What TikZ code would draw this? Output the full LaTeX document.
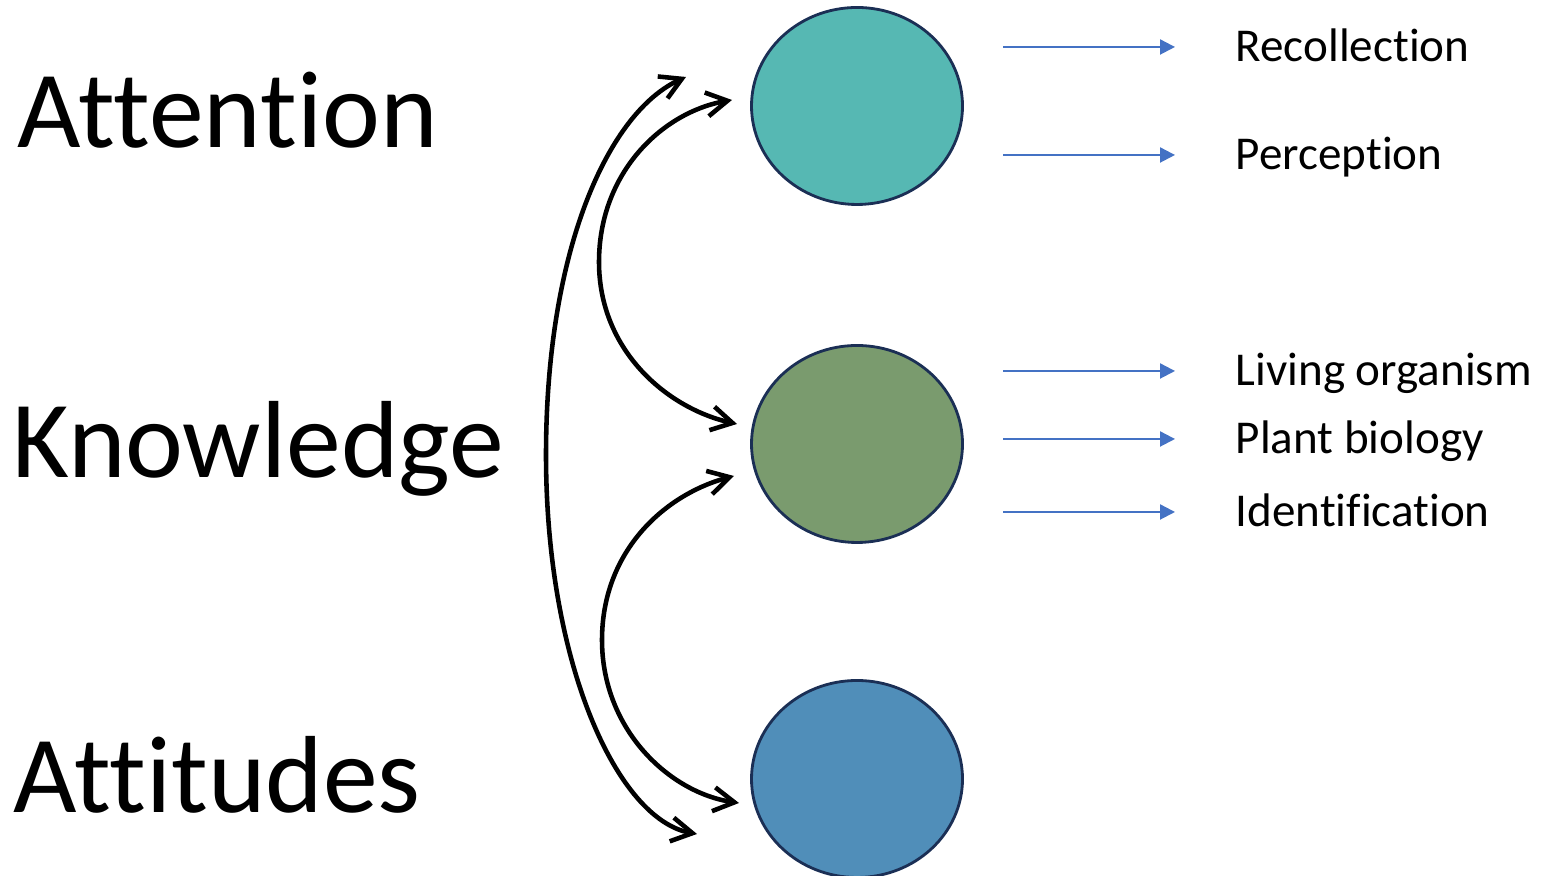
\documentclass[tikz,border=0pt]{standalone}
\usepackage{fontspec}
\setmainfont{Carlito}[Ligatures=NoCommon]
\usepackage{tikz}
\usetikzlibrary{shapes.geometric,arrows.meta}

\definecolor{tealfill}{HTML}{56B8B3}
\definecolor{greenfill}{HTML}{7A9B6E}
\definecolor{bluefill}{HTML}{508EB9}
\definecolor{rimblue}{HTML}{1B2F55}
\definecolor{feedblue}{HTML}{4472C4}

\begin{document}
\begin{tikzpicture}[
  bigword/.style={anchor=base west, inner sep=0pt, font=\fontsize{31.2}{36}\selectfont},
  smallword/.style={anchor=west, inner sep=0pt, text height=3mm, text depth=0pt, font=\fontsize{13.4}{16}\selectfont},
  blob/.style={ellipse, draw=rimblue, line width=0.8pt, minimum width=2.11cm, minimum height=1.97cm},
  link/.style={line width=1.3pt, {Straight Barb[length=2.1mm,width=2.4mm]}-{Straight Barb[length=2.1mm,width=2.4mm]}},
  feed/.style={draw=feedblue, line width=0.6pt, -{Triangle[length=1.5mm,width=1.5mm]}}
]

\useasboundingbox (0,0) rectangle (15.42,8.76);

\draw (0.17,7.28) node[bigword] (attention) {Attention};
\draw (0.12,3.98) node[bigword] (knowledge) {Knowledge};
\draw (0.13,0.63) node[bigword] (attitudes) {Attitudes};

\draw (8.57,7.70) node[blob, fill=tealfill] (att) {};
\draw (8.57,4.32) node[blob, fill=greenfill] (know) {};
\draw (8.57,0.97) node[blob, fill=bluefill] (atti) {};

\draw (12.35,8.29) node[smallword] (rec) {Recollection};
\draw (12.35,7.21) node[smallword] (perc) {Perception};
\draw (12.35,5.05) node[smallword] (liv) {Living organism};
\draw (12.35,4.37) node[smallword] (plant) {Plant biology};
\draw (12.35,3.64) node[smallword] (ident) {Identification};

\foreach \w in {rec,perc,liv,plant,ident}
  \draw[feed] ([xshift=-2.32cm]\w.west) -- ([xshift=-0.6cm]\w.west);

\coordinate (outtop) at (6.86,7.99);
\coordinate (outleft) at (5.46,4.21);
\coordinate (outbot) at (6.97,0.42);
\coordinate (uptop) at (7.32,7.76);
\coordinate (upleft) at (5.99,6.14);
\coordinate (upbot) at (7.37,4.52);
\coordinate (lowtop) at (7.34,4.00);
\coordinate (lowleft) at (6.02,2.36);
\coordinate (lowbot) at (7.39,0.73);

\draw[link] (outtop) .. controls (6.1,7.65) and (5.46,6.3) .. (outleft)
  .. controls (5.46,2.11) and (6.18,0.56) .. (outbot);
\draw[link] (uptop) .. controls (6.63,7.64) and (5.99,7.04) .. (upleft)
  .. controls (5.99,5.24) and (6.69,4.67) .. (upbot);
\draw[link] (lowtop) .. controls (6.66,3.82) and (6.02,3.26) .. (lowleft)
  .. controls (6.02,1.46) and (6.70,0.83) .. (lowbot);

\end{tikzpicture}
\end{document}
